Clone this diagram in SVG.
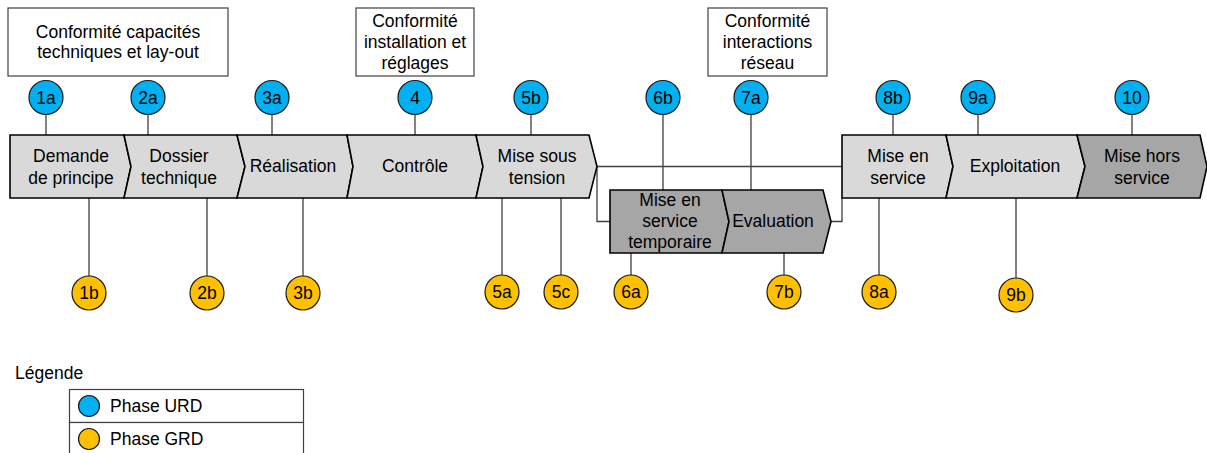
<svg xmlns="http://www.w3.org/2000/svg" width="1207" height="453" viewBox="0 0 1207 453">
<style>
text{font-family:"Liberation Sans",Arial,sans-serif;font-size:17.5px;fill:#000;text-anchor:middle}
.lt{fill:#d9d9d9;stroke:#000;stroke-width:1.6;stroke-linejoin:miter}
.dk{fill:#a6a6a6;stroke:#000;stroke-width:1.6;stroke-linejoin:miter}
.box{fill:#fff;stroke:#404040;stroke-width:1.2}
.urd{fill:#00b0f0;stroke:#1a1a1a;stroke-width:1.2}
.grd{fill:#ffc000;stroke:#1a1a1a;stroke-width:1.2}
.ln{fill:none;stroke:#404040;stroke-width:1.3}
.st{text-anchor:start}
</style>
<g id="connectors">
<path class="ln" d="M597,166.5H842M597,166.5V221.5H610M831,221.5H842V198"/>
<path class="ln" d="M46,115V135M148,115V135M272,115V135M415,115V135M531,115V135M663,115V190M751,115V190M893,115V135M978,115V135M1132,115V135"/>
<path class="ln" d="M89,198V276M207,198V276M303,198V276M502,198V275M561,198V275M631,253V275M784,253V275M879,198V275M1016,198V278"/>
</g>
<g id="box-capacites"><rect class="box" x="8" y="8" width="220" height="68"/><text x="118" y="38">Conformité capacités</text><text x="118" y="58">techniques et lay-out</text></g>
<g id="box-installation"><rect class="box" x="356" y="8" width="118" height="68"/><text x="415" y="27">Conformité</text><text x="415" y="48">installation et</text><text x="415" y="69">réglages</text></g>
<g id="box-interactions"><rect class="box" x="708" y="8" width="119" height="68"/><text x="767.5" y="27">Conformité</text><text x="767.5" y="48">interactions</text><text x="767.5" y="69">réseau</text></g>
<g id="s1"><polygon class="lt" points="10,135 124,135 131,166.5 124,198 10,198"/><text x="71" y="162">Demande</text><text x="71" y="184">de principe</text></g>
<g id="s2"><polygon class="lt" points="124,135 237,135 245,166.5 237,198 124,198 131,166.5"/><text x="179" y="162">Dossier</text><text x="179" y="184">technique</text></g>
<g id="s3"><polygon class="lt" points="237,135 347,135 353,166.5 347,198 237,198 245,166.5"/><text x="293" y="172">Réalisation</text></g>
<g id="s4"><polygon class="lt" points="347,135 476,135 483,166.5 476,198 347,198 353,166.5"/><text x="415" y="172">Contrôle</text></g>
<g id="s5"><polygon class="lt" points="476,135 589,135 597,166.5 589,198 476,198 483,166.5"/><text x="537" y="162">Mise sous</text><text x="537" y="184">tension</text></g>
<g id="s6"><polygon class="dk" points="610,190 722,190 729,221.5 722,253 610,253"/><text x="670" y="206">Mise en</text><text x="670" y="227">service</text><text x="670" y="248">temporaire</text></g>
<g id="s7"><polygon class="dk" points="722,190 823,190 831,221.5 823,253 722,253 729,221.5"/><text x="773" y="227">Evaluation</text></g>
<g id="s8"><polygon class="lt" points="842,135 946,135 953,166.5 946,198 842,198"/><text x="898" y="162">Mise en</text><text x="898" y="184">service</text></g>
<g id="s9"><polygon class="lt" points="946,135 1077,135 1085,166.5 1077,198 946,198 953,166.5"/><text x="1015" y="172">Exploitation</text></g>
<g id="s10"><polygon class="dk" points="1077,135 1200,135 1207,166.5 1200,198 1077,198 1085,166.5"/><text x="1142" y="162">Mise hors</text><text x="1142" y="184">service</text></g>
<g id="c1a"><circle class="urd" cx="46" cy="97.5" r="17"/><text x="46" y="103.5">1a</text></g>
<g id="c2a"><circle class="urd" cx="148" cy="97.5" r="17"/><text x="148" y="103.5">2a</text></g>
<g id="c3a"><circle class="urd" cx="272" cy="97.5" r="17"/><text x="272" y="103.5">3a</text></g>
<g id="c4"><circle class="urd" cx="415" cy="97.5" r="17"/><text x="415" y="103.5">4</text></g>
<g id="c5b"><circle class="urd" cx="531" cy="97.5" r="17"/><text x="531" y="103.5">5b</text></g>
<g id="c6b"><circle class="urd" cx="663" cy="97.5" r="17"/><text x="663" y="103.5">6b</text></g>
<g id="c7a"><circle class="urd" cx="751" cy="97.5" r="17"/><text x="751" y="103.5">7a</text></g>
<g id="c8b"><circle class="urd" cx="893" cy="97.5" r="17"/><text x="893" y="103.5">8b</text></g>
<g id="c9a"><circle class="urd" cx="978" cy="97.5" r="17"/><text x="978" y="103.5">9a</text></g>
<g id="c10"><circle class="urd" cx="1132" cy="97.5" r="17"/><text x="1132" y="103.5">10</text></g>
<g id="c1b"><circle class="grd" cx="89" cy="293" r="17"/><text x="89" y="299">1b</text></g>
<g id="c2b"><circle class="grd" cx="207" cy="293" r="17"/><text x="207" y="299">2b</text></g>
<g id="c3b"><circle class="grd" cx="303" cy="293" r="17"/><text x="303" y="299">3b</text></g>
<g id="c5a"><circle class="grd" cx="502" cy="292" r="17"/><text x="502" y="298">5a</text></g>
<g id="c5c"><circle class="grd" cx="561" cy="292" r="17"/><text x="561" y="298">5c</text></g>
<g id="c6a"><circle class="grd" cx="631" cy="292" r="17"/><text x="631" y="298">6a</text></g>
<g id="c7b"><circle class="grd" cx="784" cy="292" r="17"/><text x="784" y="298">7b</text></g>
<g id="c8a"><circle class="grd" cx="879" cy="292" r="17"/><text x="879" y="298">8a</text></g>
<g id="c9b"><circle class="grd" cx="1016" cy="295" r="17"/><text x="1016" y="301">9b</text></g>
<g id="legend">
<text class="st" x="15" y="379">Légende</text>
<rect x="69.5" y="389.5" width="234" height="33" fill="#fff" stroke="#404040" stroke-width="1.2"/>
<rect x="69.5" y="422.5" width="234" height="40" fill="#fff" stroke="#404040" stroke-width="1.2"/>
<circle class="urd" cx="89" cy="406" r="10.5"/><text class="st" x="110" y="412">Phase URD</text>
<circle class="grd" cx="89" cy="439" r="10.5"/><text class="st" x="110" y="445">Phase GRD</text>
</g>
</svg>
